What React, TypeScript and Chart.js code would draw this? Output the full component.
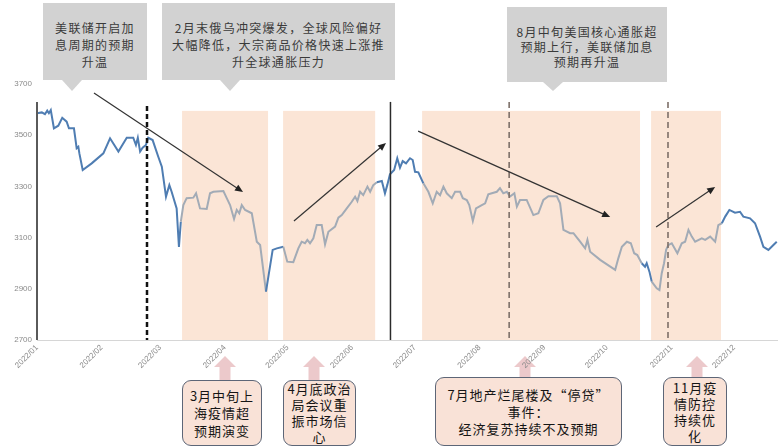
import React, { useEffect, useRef } from "react";
import { Chart, registerables } from "chart.js";

Chart.register(...registerables);

// ---------- data ----------
const monthStartDays = [0, 31, 59, 90, 120, 151, 181, 212, 243, 273, 304, 334];
const monthLabels = ["2022/01", "2022/02", "2022/03", "2022/04", "2022/05", "2022/06", "2022/07", "2022/08", "2022/09", "2022/10", "2022/11", "2022/12"];
const yTickValues = [2700, 2900, 3100, 3300, 3500, 3700];

const days = [
  0, 2.3, 3.8, 4.9, 5.7, 6.6, 8.1, 10.2, 12.1, 14.2,
  15.3, 17.7, 19.0, 19.8, 20.3, 21.9, 26.2, 31.8, 35.0, 39.0,
  43.0, 46.1, 47.4, 48.3, 49.4, 50.6, 52.2, 53.3, 55.4, 58.1,
  59.8, 61.8, 63.4, 64.5, 66.9, 68.0, 68.9, 70.1, 71.7, 74.9,
  76.2, 78.1, 81.3, 82.9, 84.5, 89.3, 90.9, 92.5, 94.4, 95.7,
  96.9, 98.1, 99.7, 102.9, 105.3, 106.9, 109.7, 112.9, 114.9, 118.0,
  119.9, 122.8, 125.2, 126.8, 128.4, 129.5, 130.8, 132.4, 134.0, 136.4,
  138.0, 139.6, 142.8, 144.4, 146.0, 148.4, 150.8, 152.4, 153.5, 154.8,
  156.3, 158.3, 159.6, 161.1, 162.8, 165.2, 166.7, 167.8, 169.1, 171.1,
  172.6, 173.9, 175.2, 176.8, 178.7, 180.0, 181.1, 182.7, 185.1, 187.5,
  189.6, 191.5, 193.1, 194.7, 196.3, 198.7, 200.3, 202.7, 204.0, 205.9,
  207.1, 208.8, 210.3, 213.1, 214.7, 216.2, 217.9, 220.3, 221.8, 223.4,
  225.1, 226.6, 228.7, 229.9, 231.4, 234.6, 237.8, 240.2, 242.6, 245.0,
  249.0, 250.6, 252.2, 255.4, 257.0, 260.2, 262.6, 263.7, 265.0, 269.8,
  277.0, 278.5, 280.2, 282.6, 284.5, 286.1, 287.6, 289.7, 291.3, 292.1,
  293.4, 294.5, 296.9, 298.2, 299.3, 300.4, 301.4, 302.5, 304.1, 306.8,
  308.9, 310.5, 312.1, 313.7, 315.3, 318.5, 320.1, 322.5, 324.9, 326.4,
  328.1, 329.7, 331.7, 334.4, 336.8, 338.4, 341.6, 344.0, 346.4, 348.0,
  350.4, 352.8, 354.4,
];

const indexValues = [
  3586, 3589, 3582, 3596, 3586, 3598, 3527, 3537, 3568, 3553,
  3527, 3527, 3449, 3455, 3429, 3364, 3390, 3429, 3488, 3436,
  3490, 3490, 3462, 3490, 3436, 3451, 3462, 3490, 3481, 3416,
  3377, 3260, 3305, 3279, 3214, 3064, 3162, 3227, 3254, 3256,
  3273, 3214, 3212, 3273, 3279, 3282, 3254, 3227, 3173, 3208,
  3195, 3227, 3208, 3195, 3084, 3071, 2889, 3052, 3058, 3064,
  3006, 3004, 3058, 3084, 3078, 3091, 3078, 3097, 3149, 3149,
  3074, 3123, 3143, 3178, 3188, 3214, 3240, 3260, 3243, 3279,
  3266, 3299, 3279, 3305, 3316, 3321, 3273, 3305, 3347, 3364,
  3410, 3373, 3399, 3390, 3410, 3403, 3357, 3355, 3312, 3279,
  3234, 3279, 3266, 3299, 3273, 3254, 3279, 3279, 3254, 3247,
  3227, 3165, 3214, 3227, 3234, 3269, 3273, 3279, 3293, 3273,
  3279, 3260, 3273, 3221, 3247, 3247, 3188, 3195, 3247, 3262,
  3262, 3234, 3130, 3117, 3117, 3084, 3058, 3091, 3045, 3013,
  2974, 3019, 3064, 3084, 3078, 3039, 3032, 3000, 2986, 3000,
  2967, 2928, 2902, 2895, 2961, 3000, 3052, 3071, 3078, 3039,
  3078, 3084, 3130, 3104, 3084, 3097, 3091, 3104, 3084, 3149,
  3156, 3182, 3208, 3197, 3201, 3182, 3175, 3156, 3104, 3064,
  3052, 3071, 3084,
];

// shaded periods (start day, end day) and their top value
const shadeStarts = [69.5, 117.9, 184.5, 294.2];
const shadeEnds = [110.7, 162.0, 288.9, 327.7];
const shadeTopValue = 3595;

// marker lines
const solidMarkerDays = [0, 169.1];
const solidMarkerTop = 3630;
const keyDashedDays = [52.7];
const keyDashedTop = 3614;
const eventDashedDays = [226.2, 302.3];
const eventDashedTop = 3630;

// trend arrows: [startDay, startValue, endDay, endValue]
const trendArrows = [
  [27.3, 3665, 98.7, 3278],
  [123.1, 3165, 167.2, 3470],
  [182.6, 3516, 274.6, 3180],
  [296.6, 3141, 324.9, 3298],
];

const topNotes = [
  ["美联储开启加", "息周期的预期", "升温"],
  ["2月末俄乌冲突爆发，全球风险偏好", "大幅降低，大宗商品价格快速上涨推", "升全球通胀压力"],
  ["8月中旬美国核心通胀超", "预期上行，美联储加息", "预期再升温"],
];
const bottomNotes = [
  ["3月中旬上", "海疫情超", "预期演变"],
  ["4月底政治", "局会议重", "振市场信", "心"],
  ["7月地产烂尾楼及“停贷”", "事件：", "经济复苏持续不及预期"],
  ["11月疫", "情防控", "持续优", "化"],
];

// ---------- layout (pixels) ----------
const topBoxLayout = [
  { left: 43, top: 3, width: 104, height: 77, tip: 72, textTop: 19, lh: 17 },
  { left: 162, top: 3, width: 233, height: 77, tip: 230, textTop: 19, lh: 17 },
  { left: 507, top: 7, width: 160, height: 75, tip: 553, textTop: 24, lh: 15 },
];
const bottomBoxLayout = [
  { left: 182, top: 380, width: 80, height: 66, arrow: 225, lh: 17.5 },
  { left: 283, top: 380, width: 73, height: 66, arrow: 314, lh: 16 },
  { left: 435, top: 377, width: 187, height: 69, arrow: 525, lh: 17 },
  { left: 663, top: 377, width: 64, height: 69, arrow: 697, lh: 16 },
];

const BLUE = "#4f7db2";
const GRAY_LINE = "#a2abb6";
const SHADE = "#fbe5d6";
const CJK = '"Noto Sans CJK SC", "Noto Sans", sans-serif';

function inShade(d: number) {
  for (let i = 0; i < shadeStarts.length; i++) {
    if (d >= shadeStarts[i] && d <= shadeEnds[i]) return true;
  }
  return false;
}

function drawArrow(ctx: CanvasRenderingContext2D, x0: number, y0: number, x1: number, y1: number) {
  const ang = Math.atan2(y1 - y0, x1 - x0);
  const L = 8, W = 3.5;
  ctx.beginPath();
  ctx.moveTo(x0, y0);
  ctx.lineTo(x1 - (L - 2) * Math.cos(ang), y1 - (L - 2) * Math.sin(ang));
  ctx.stroke();
  ctx.beginPath();
  ctx.moveTo(x1, y1);
  ctx.lineTo(x1 - L * Math.cos(ang) + W * Math.sin(ang), y1 - L * Math.sin(ang) - W * Math.cos(ang));
  ctx.lineTo(x1 - L * Math.cos(ang) - W * Math.sin(ang), y1 - L * Math.sin(ang) + W * Math.cos(ang));
  ctx.closePath();
  ctx.fill();
}

const overlayPlugin = {
  id: "overlayPlugin",
  beforeDatasetsDraw(chart: any) {
    const { ctx, scales } = chart;
    const x = scales.x, y = scales.y;
    const yt = y.getPixelForValue(shadeTopValue);
    const yb = y.getPixelForValue(2700);
    ctx.save();
    ctx.fillStyle = SHADE;
    for (let i = 0; i < shadeStarts.length; i++) {
      const x0 = x.getPixelForValue(shadeStarts[i]);
      const x1 = x.getPixelForValue(shadeEnds[i]);
      ctx.fillRect(x0, yt, x1 - x0, yb - yt);
    }
    ctx.restore();
  },
  afterDatasetsDraw(chart: any) {
    const { ctx, scales } = chart;
    const x = scales.x, y = scales.y;
    const yb = y.getPixelForValue(2700);
    ctx.save();
    solidMarkerDays.forEach((d, i) => {
      const px = x.getPixelForValue(d) + (i === 0 ? 0 : 0.5);
      ctx.beginPath();
      ctx.strokeStyle = i === 0 ? "#5a5a5a" : "#2b2b2b";
      ctx.lineWidth = i === 0 ? 2 : 1.5;
      ctx.setLineDash([]);
      ctx.moveTo(px, y.getPixelForValue(solidMarkerTop));
      ctx.lineTo(px, yb);
      ctx.stroke();
    });
    keyDashedDays.forEach((d) => {
      const px = x.getPixelForValue(d);
      ctx.beginPath();
      ctx.strokeStyle = "#111111";
      ctx.lineWidth = 2.5;
      ctx.setLineDash([5, 3]);
      ctx.moveTo(px, y.getPixelForValue(keyDashedTop));
      ctx.lineTo(px, yb);
      ctx.stroke();
    });
    eventDashedDays.forEach((d) => {
      const px = x.getPixelForValue(d);
      ctx.beginPath();
      ctx.strokeStyle = "#7d7069";
      ctx.lineWidth = 1.6;
      ctx.setLineDash([6, 4]);
      ctx.moveTo(px, y.getPixelForValue(eventDashedTop));
      ctx.lineTo(px, yb);
      ctx.stroke();
    });
    ctx.setLineDash([]);
    ctx.strokeStyle = "#333333";
    ctx.fillStyle = "#222222";
    ctx.lineWidth = 1.2;
    trendArrows.forEach((a) => {
      drawArrow(
        ctx,
        x.getPixelForValue(a[0]), y.getPixelForValue(a[1]),
        x.getPixelForValue(a[2]), y.getPixelForValue(a[3])
      );
    });
    ctx.restore();
  },
};

function TopNote({ lines, lay }: { lines: string[]; lay: any }) {
  return (
    <>
      <div
        style={{
          position: "absolute", left: lay.left, top: lay.top, width: lay.width, height: lay.height,
          background: "#d2d2d2",
        }}
      />
      <div
        style={{
          position: "absolute", left: lay.tip - 10, top: lay.top + lay.height, width: 0, height: 0,
          borderLeft: "10px solid transparent", borderRight: "10px solid transparent",
          borderTop: `${91 - lay.top - lay.height}px solid #d2d2d2`,
        }}
      />
      <div
        style={{
          position: "absolute", left: lay.left, top: lay.textTop, width: lay.width, textAlign: "center",
          fontFamily: CJK, fontSize: 12, lineHeight: `${lay.lh}px`, letterSpacing: "1.3px", color: "#3a3a3a",
          whiteSpace: "nowrap",
        }}
      >
        {lines.map((l, i) => (
          <div key={i}>{l}</div>
        ))}
      </div>
    </>
  );
}

function BottomNote({ lines, lay }: { lines: string[]; lay: any }) {
  return (
    <>
      <svg
        style={{ position: "absolute", left: lay.arrow - 11, top: 356 }}
        width={22}
        height={lay.top - 356 + 1}
      >
        <polygon points="0,11 11,0 22,11 16.5,11 16.5,40 5.5,40 5.5,11" fill="#ecc9cb" />
      </svg>
      <div
        style={{
          position: "absolute", left: lay.left, top: lay.top, width: lay.width, height: lay.height,
          boxSizing: "border-box", background: "#f9e2d7", border: "1.5px solid #5d6677", borderRadius: 9,
          display: "flex", flexDirection: "column", justifyContent: "center", alignItems: "center",
          fontFamily: CJK, fontSize: 13, lineHeight: `${lay.lh}px`, letterSpacing: "1px", color: "#151515",
          whiteSpace: "nowrap", fontWeight: 400,
        }}
      >
        {lines.map((l, i) => (
          <div key={i}>{l}</div>
        ))}
      </div>
    </>
  );
}

export default function App() {
  const canvasRef = useRef<HTMLCanvasElement | null>(null);

  useEffect(() => {
    if (!canvasRef.current) return;
    const points = days.map((d, i) => ({ x: d, y: indexValues[i] }));
    const chart = new Chart(canvasRef.current, {
      type: "line",
      data: {
        datasets: [
          {
            data: points,
            borderColor: BLUE,
            borderWidth: 2,
            pointRadius: 0,
            tension: 0,
            fill: false,
            segment: {
              borderColor: (c: any) =>
                inShade((c.p0.parsed.x + c.p1.parsed.x) / 2) ? GRAY_LINE : BLUE,
            },
          },
        ],
      },
      options: {
        animation: false,
        responsive: false,
        devicePixelRatio: 1,
        events: [],
        layout: { padding: { top: 84, left: 0, right: 0, bottom: 0 } },
        plugins: { legend: { display: false }, tooltip: { enabled: false }, title: { display: false } },
        scales: {
          x: {
            type: "linear",
            min: 0,
            max: 355,
            grid: { display: false, drawTicks: false },
            border: { display: true, color: "#d6d6d6", width: 1 },
            afterBuildTicks: (s: any) => {
              s.ticks = monthStartDays.map((v) => ({ value: v }));
            },
            afterFit: (s: any) => {
              s.height = 108;
            },
            ticks: {
              autoSkip: false,
              minRotation: 45,
              maxRotation: 45,
              padding: 3,
              color: "#8a8a8a",
              font: { family: "Liberation Sans", size: 8 },
              callback: (v: any) => {
                const i = monthStartDays.indexOf(Number(v));
                return i >= 0 ? monthLabels[i] : "";
              },
            },
          },
          y: {
            type: "linear",
            min: 2700,
            max: 3700,
            grid: { display: false, drawTicks: false },
            border: { display: false },
            afterBuildTicks: (s: any) => {
              s.ticks = yTickValues.map((v) => ({ value: v }));
            },
            afterFit: (s: any) => {
              s.width = 37;
            },
            ticks: {
              padding: 5,
              color: "#8a8a8a",
              font: { family: "Liberation Sans", size: 8 },
              callback: (v: any) => String(v),
            },
          },
        },
      },
      plugins: [overlayPlugin],
    } as any);
    return () => chart.destroy();
  }, []);

  return (
    <div style={{ position: "fixed", left: 0, top: 0, width: 778, height: 448, background: "#ffffff", overflow: "hidden" }}>
      {topNotes.map((lines, i) => (
        <TopNote key={"t" + i} lines={lines} lay={topBoxLayout[i]} />
      ))}
      {bottomNotes.map((lines, i) => (
        <BottomNote key={"b" + i} lines={lines} lay={bottomBoxLayout[i]} />
      ))}
      <canvas
        ref={canvasRef}
        width={778}
        height={448}
        style={{ position: "absolute", left: 0, top: 0, width: 778, height: 448, display: "block" }}
      />
    </div>
  );
}
